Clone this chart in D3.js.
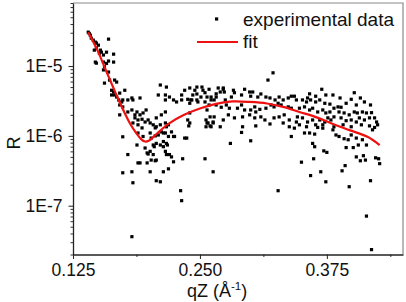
<!DOCTYPE html>
<html>
<head>
<meta charset="utf-8">
<script src="https://cdn.jsdelivr.net/npm/d3@7"></script>
<style>
  body { margin: 0; background: #fff; }
  svg { display: block; font-family: Arial, "Liberation Sans", sans-serif; }
</style>
</head>
<body>
<svg id="chart"></svg>
<script>
// chart size
const width = 406;
const height = 302;

// measured reflectivity (qZ in 1/Å, R)
const qExp = [
  0.140, 0.141, 0.142, 0.143, 0.145, 0.147, 0.148, 0.150, 0.146, 0.148,
  0.152, 0.153, 0.151, 0.155, 0.158, 0.160, 0.165, 0.147, 0.148, 0.155,
  0.156, 0.158, 0.160, 0.165, 0.155, 0.160, 0.156, 0.161, 0.166, 0.168,
  0.163, 0.165, 0.163, 0.166, 0.168, 0.171, 0.176, 0.170, 0.173, 0.174,
  0.179, 0.183, 0.184, 0.191, 0.171, 0.174, 0.171, 0.179, 0.183, 0.186,
  0.188, 0.191, 0.194, 0.197, 0.186, 0.189, 0.193, 0.196, 0.199, 0.184,
  0.189, 0.193, 0.201, 0.204, 0.206, 0.207, 0.211, 0.216, 0.219, 0.212,
  0.216, 0.217, 0.222, 0.224, 0.235, 0.237, 0.201, 0.207, 0.212, 0.216,
  0.211, 0.217, 0.209, 0.216, 0.216, 0.220, 0.224, 0.227, 0.232, 0.235,
  0.240, 0.245, 0.247, 0.252, 0.253, 0.232, 0.242, 0.247, 0.257, 0.261,
  0.266, 0.270, 0.273, 0.275, 0.257, 0.260, 0.263, 0.257, 0.261, 0.270,
  0.174, 0.189, 0.194, 0.202, 0.206, 0.209, 0.214, 0.219, 0.188, 0.196,
  0.198, 0.201, 0.204, 0.207, 0.211, 0.214, 0.217, 0.204, 0.202, 0.207,
  0.198, 0.189, 0.216, 0.217, 0.222, 0.224, 0.179, 0.174, 0.183, 0.184,
  0.201, 0.214, 0.219, 0.207, 0.211, 0.233, 0.231, 0.232, 0.183, 0.255,
  0.263, 0.191, 0.199, 0.206, 0.205, 0.214, 0.218, 0.220, 0.225, 0.280,
  0.300, 0.291, 0.327, 0.322, 0.317, 0.255, 0.247, 0.243, 0.251, 0.238,
  0.240, 0.241, 0.248, 0.255, 0.261, 0.264, 0.268, 0.273, 0.274, 0.266,
  0.281, 0.284, 0.291, 0.294, 0.300, 0.302, 0.307, 0.310, 0.315, 0.319,
  0.324, 0.328, 0.332, 0.337, 0.340, 0.259, 0.266, 0.271, 0.276, 0.279,
  0.287, 0.291, 0.294, 0.300, 0.304, 0.305, 0.309, 0.315, 0.320, 0.323,
  0.327, 0.330, 0.337, 0.340, 0.240, 0.238, 0.240, 0.256, 0.258, 0.260,
  0.263, 0.264, 0.273, 0.278, 0.284, 0.292, 0.299, 0.304, 0.310, 0.314,
  0.319, 0.323, 0.328, 0.332, 0.333, 0.338, 0.338, 0.239, 0.256, 0.292,
  0.305, 0.340, 0.283, 0.299, 0.259, 0.370, 0.402, 0.399, 0.404, 0.374,
  0.373, 0.368, 0.364, 0.359, 0.356, 0.355, 0.351, 0.345, 0.343, 0.348,
  0.353, 0.358, 0.361, 0.366, 0.371, 0.374, 0.378, 0.382, 0.386, 0.389,
  0.387, 0.392, 0.397, 0.402, 0.405, 0.410, 0.414, 0.419, 0.422, 0.424,
  0.425, 0.417, 0.412, 0.407, 0.404, 0.399, 0.394, 0.389, 0.382, 0.379,
  0.376, 0.373, 0.368, 0.361, 0.356, 0.351, 0.346, 0.345, 0.348, 0.355,
  0.364, 0.371, 0.382, 0.391, 0.399, 0.409, 0.417, 0.343, 0.353, 0.358,
  0.363, 0.366, 0.371, 0.381, 0.384, 0.387, 0.392, 0.396, 0.399, 0.404,
  0.410, 0.420, 0.422, 0.361, 0.363, 0.394, 0.401, 0.406, 0.414, 0.372,
  0.375, 0.362, 0.350, 0.404, 0.411, 0.408, 0.413, 0.423, 0.426, 0.427,
  0.393, 0.390, 0.369, 0.359, 0.374, 0.397, 0.418, 0.414, 0.419, 0.358,
  0.381, 0.388, 0.408, 0.412, 0.418, 0.394, 0.378, 0.364
];
const rExp = [
  3.06e-5, 2.93e-5, 2.77e-5, 2.51e-5, 2.35e-5, 2.2e-5, 2.13e-5, 1.99e-5, 1.69e-5, 1.81e-5,
  1.69e-5, 1.58e-5, 1.53e-5, 1.44e-5, 1.58e-5, 2.43e-5, 1.48e-5, 1.14e-5, 1.1e-5, 1.14e-5,
  9.8e-6, 1.09e-5, 1.18e-5, 1.14e-5, 8.8e-6, 8.2e-6, 5.7e-6, 6.3e-6, 6.3e-6, 5.9e-6,
  4.5e-6, 4.25e-6, 3.85e-6, 3.85e-6, 3.6e-6, 4.1e-6, 4.5e-6, 3.27e-6, 3.06e-6, 3.27e-6,
  3.27e-6, 3.49e-6, 3.27e-6, 3.49e-6, 2.77e-6, 2.6e-6, 2.0e-6, 2.2e-6, 2.35e-6, 2.0e-6,
  2.2e-6, 2.0e-6, 2.13e-6, 2.35e-6, 1.81e-6, 1.69e-6, 1.73e-6, 1.58e-6, 1.69e-6, 1.53e-6,
  1.44e-6, 1.3e-6, 1.53e-6, 1.44e-6, 1.3e-6, 1.35e-6, 1.44e-6, 1.53e-6, 1.44e-6, 1.14e-6,
  1.1e-6, 1.35e-6, 1.14e-6, 9.8e-7, 9.3e-7, 9.3e-7, 1.1e-6, 1.81e-6, 2.0e-6, 2.2e-6,
  5.35e-6, 5.0e-6, 3.85e-6, 3.85e-6, 3.27e-6, 3.6e-6, 3.27e-6, 3.06e-6, 3.27e-6, 4.5e-6,
  4.85e-6, 4.5e-6, 5.0e-6, 5.0e-6, 4.5e-6, 3.85e-6, 3.27e-6, 3.27e-6, 3.6e-6, 3.27e-6,
  3.6e-6, 4.25e-6, 4.85e-6, 3.27e-6, 2.35e-6, 1.87e-6, 1.53e-6, 1.53e-6, 1.35e-6, 1.35e-6,
  9.7e-7, 1.1e-6, 9.8e-7, 9.3e-7, 1.0e-6, 1.03e-6, 1.1e-6, 9.8e-7, 7.4e-7, 6.7e-7,
  5.7e-7, 6.0e-7, 7.4e-7, 7.8e-7, 7.4e-7, 7.0e-7, 7.8e-7, 5.4e-7, 4.5e-7, 4.5e-7,
  4.1e-7, 4.1e-7, 6.0e-7, 5.4e-7, 5.0e-7, 4.25e-7, 5.4e-7, 2.96e-7, 3.06e-7, 2.13e-7,
  3.06e-7, 3.06e-7, 3.37e-7, 2.28e-7, 2.2e-7, 4.7e-7, 1.64e-7, 1.18e-7, 3.6e-8, 4.7e-7,
  3.06e-7, 4.1e-7, 5.5e-7, 4.4e-7, 7.0e-7, 8.3e-7, 7.4e-7, 5.4e-7, 9.8e-7, 7.8e-7,
  8.5e-7, 1.12e-6, 1.64e-7, 8.0e-6, 6.3e-6, 4.15e-6, 3.98e-6, 3.85e-6, 3.6e-6, 3.34e-6,
  2.93e-6, 3.27e-6, 3.06e-6, 3.06e-6, 3.6e-6, 3.27e-6, 4.85e-6, 4.65e-6, 4.25e-6, 4.0e-6,
  3.6e-6, 4.15e-6, 3.85e-6, 4.65e-6, 3.7e-6, 4.25e-6, 3.6e-6, 3.98e-6, 3.6e-6, 3.49e-6,
  3.27e-6, 3.6e-6, 3.27e-6, 3.49e-6, 3.7e-6, 2.77e-6, 2.77e-6, 2.57e-6, 2.77e-6, 2.49e-6,
  2.49e-6, 2.77e-6, 2.35e-6, 2.35e-6, 2.6e-6, 2.2e-6, 2.4e-6, 2.49e-6, 2.77e-6, 2.6e-6,
  2.93e-6, 2.77e-6, 2.6e-6, 2.49e-6, 2.13e-6, 1.69e-6, 1.53e-6, 1.69e-6, 1.53e-6, 1.39e-6,
  1.58e-6, 1.87e-6, 1.69e-6, 2.0e-6, 1.81e-6, 1.87e-6, 2.0e-6, 1.81e-6, 1.87e-6, 1.69e-6,
  1.48e-6, 1.81e-6, 1.87e-6, 1.53e-6, 2.0e-6, 1.69e-6, 1.35e-6, 1.39e-6, 1.35e-6, 1.35e-6,
  1.39e-6, 9.8e-7, 4.5e-6, 4.25e-6, 4.65e-6, 4.65e-6, 4.15e-6, 3.34e-6, 2.77e-6, 3.85e-6,
  2.93e-6, 3.27e-6, 3.06e-6, 3.27e-6, 3.49e-6, 3.06e-6, 3.27e-6, 3.27e-6, 3.7e-6, 2.49e-6,
  2.6e-6, 2.35e-6, 2.49e-6, 2.2e-6, 2.35e-6, 2.13e-6, 2.2e-6, 2.49e-6, 2.6e-6, 2.57e-6,
  2.2e-6, 2.13e-6, 2.0e-6, 2.2e-6, 2.13e-6, 2.2e-6, 2.13e-6, 2.15e-6, 1.81e-6, 1.58e-6,
  1.44e-6, 1.81e-6, 1.69e-6, 1.81e-6, 1.58e-6, 1.69e-6, 1.65e-6, 1.81e-6, 1.87e-6, 1.69e-6,
  1.81e-6, 1.58e-6, 1.69e-6, 1.69e-6, 1.58e-6, 1.81e-6, 1.87e-6, 1.58e-6, 1.44e-6, 1.35e-6,
  1.44e-6, 1.44e-6, 1.35e-6, 1.44e-6, 1.35e-6, 1.44e-6, 1.39e-6, 1.29e-6, 1.1e-6, 1.1e-6,
  1.06e-6, 1.32e-6, 1.29e-6, 1.22e-6, 1.03e-6, 9.8e-7, 9.1e-7, 8.8e-7, 1.03e-6, 9.3e-7,
  8.8e-7, 1.22e-6, 1.32e-6, 7.8e-7, 7.0e-7, 6.8e-7, 6.8e-7, 7.4e-7, 7.4e-7, 6.1e-7,
  5.8e-7, 4.7e-7, 4.2e-7, 5.0e-7, 5.2e-7, 4.4e-7, 4.5e-7, 4.85e-7, 4.7e-7, 4.0e-7,
  3.75e-7, 3.16e-7, 3.06e-7, 2.7e-7, 2.2e-7, 1.87e-7, 2.28e-7, 7.1e-8, 2.35e-8, 4.0e-6,
  3.85e-6, 3.49e-6, 3.49e-6, 3.06e-6, 2.77e-6, 2.93e-6, 2.85e-6, 3.7e-6
];

// fitted curve
const qFit = [0.140, 0.149, 0.158, 0.170, 0.181, 0.188, 0.192, 0.196, 0.200, 0.205, 0.211, 0.219,
              0.234, 0.250, 0.266, 0.282, 0.299, 0.316, 0.332, 0.348, 0.365, 0.381,
              0.398, 0.415, 0.427];
const rFit = [3.06e-5, 1.69e-5, 8.3e-6, 3.27e-6, 1.52e-6, 1.06e-6, 9.0e-7, 8.3e-7, 8.6e-7, 9.9e-7, 1.19e-6, 1.49e-6,
              1.99e-6, 2.47e-6, 2.87e-6, 3.11e-6, 3.06e-6, 2.91e-6, 2.6e-6, 2.2e-6, 1.84e-6, 1.48e-6,
              1.2e-6, 9.7e-7, 7.4e-7];

// axis ticks
const xTicks = [0.125, 0.25, 0.375];
const xMinor = [0.1875, 0.3125, 0.4375];
const yTicks = [1e-7, 1e-6, 1e-5];
const yMinor = [];
[1e-8, 1e-7, 1e-6, 1e-5].forEach(d => {
    for (let k = 2; k <= 9; k++) if (d * k >= 2e-8 && d * k <= 8e-5) yMinor.push(d * k);
});

const legendLabels = ["experimental data", "fit"];

const svg = d3.select("#chart")
    .attr("width", width)
    .attr("height", height);

// plot box
const plotLeft = 73, plotRight = 403, plotTop = 3, plotBottom = 254.5;

const x = d3.scaleLinear().domain([0.125, 0.45]).range([plotLeft, plotRight]);
const y = d3.scaleLog().domain([2e-8, 8e-5]).range([plotBottom, plotTop]);

// top and right frame (lighter)
svg.append("path")
    .attr("d", `M${plotLeft},${plotTop}H${plotRight}V${plotBottom}`)
    .attr("fill", "none")
    .attr("stroke", "#8a8a8a")
    .attr("stroke-width", 1.2);

// minor ticks
svg.append("g")
    .attr("transform", `translate(0,${plotBottom})`)
    .call(d3.axisBottom(x).tickValues(xMinor).tickSize(2.5).tickFormat("").tickSizeOuter(0))
    .call(g => g.select(".domain").remove())
    .selectAll("line").attr("stroke", "#333");

svg.append("g")
    .attr("transform", `translate(${plotLeft},0)`)
    .call(d3.axisLeft(y).tickValues(yMinor).tickSize(2.5).tickFormat("").tickSizeOuter(0))
    .call(g => g.select(".domain").remove())
    .selectAll("line").attr("stroke", "#333");

// major axes
const xAxis = svg.append("g")
    .attr("transform", `translate(0,${plotBottom})`)
    .call(d3.axisBottom(x).tickValues(xTicks).tickSize(4.5).tickPadding(5)
        .tickFormat(d3.format(".3f")).tickSizeOuter(0));

const yAxis = svg.append("g")
    .attr("transform", `translate(${plotLeft},0)`)
    .call(d3.axisLeft(y).tickValues(yTicks).tickSize(4.5).tickPadding(6)
        .tickFormat(d => "1E" + Math.round(Math.log10(d))).tickSizeOuter(0));

[xAxis, yAxis].forEach(g => {
    g.attr("font-family", null).attr("font-size", null);
    g.select(".domain").attr("stroke", "#222").attr("stroke-width", 1.3);
    g.selectAll(".tick line").attr("stroke", "#222");
    g.selectAll("text").style("font-size", "17.5px").attr("fill", "#111");
});

// data points
svg.append("g")
    .selectAll("rect")
    .data(qExp.map((q, i) => [q, rExp[i]]))
    .join("rect")
    .attr("x", d => x(d[0]) - 1.6)
    .attr("y", d => y(d[1]) - 1.6)
    .attr("width", 3.2)
    .attr("height", 3.2)
    .attr("fill", "#000");

// fit line
const line = d3.line()
    .x(d => x(d[0]))
    .y(d => y(d[1]))
    .curve(d3.curveCatmullRom.alpha(0.5));

svg.append("path")
    .datum(qFit.map((q, i) => [q, rFit[i]]))
    .attr("d", line)
    .attr("fill", "none")
    .attr("stroke", "#ee1111")
    .attr("stroke-width", 2.2);

// legend
const legend = svg.append("g");
legend.append("rect")
    .attr("x", 215).attr("y", 17.4).attr("width", 3.2).attr("height", 3.2)
    .attr("fill", "#000");
legend.append("line")
    .attr("x1", 197).attr("x2", 238).attr("y1", 42).attr("y2", 42)
    .attr("stroke", "#ee1111").attr("stroke-width", 2.2);
legend.selectAll("text")
    .data(legendLabels)
    .join("text")
    .attr("x", 243)
    .attr("y", (d, i) => 26 + i * 22)
    .style("font-size", "19px")
    .attr("fill", "#111")
    .text(d => d);

// axis titles
const xTitle = svg.append("text")
    .attr("x", 217)
    .attr("y", 296.5)
    .attr("text-anchor", "middle")
    .style("font-size", "18px")
    .attr("fill", "#111");
xTitle.append("tspan").text("qZ (Å");
xTitle.append("tspan").attr("dy", -7).style("font-size", "11.5px").text("-1");
xTitle.append("tspan").attr("dy", 7).text(")");

svg.append("text")
    .attr("transform", "translate(20,143) rotate(-90)")
    .attr("text-anchor", "middle")
    .style("font-size", "18px")
    .attr("fill", "#111")
    .text("R");
</script>
</body>
</html>
